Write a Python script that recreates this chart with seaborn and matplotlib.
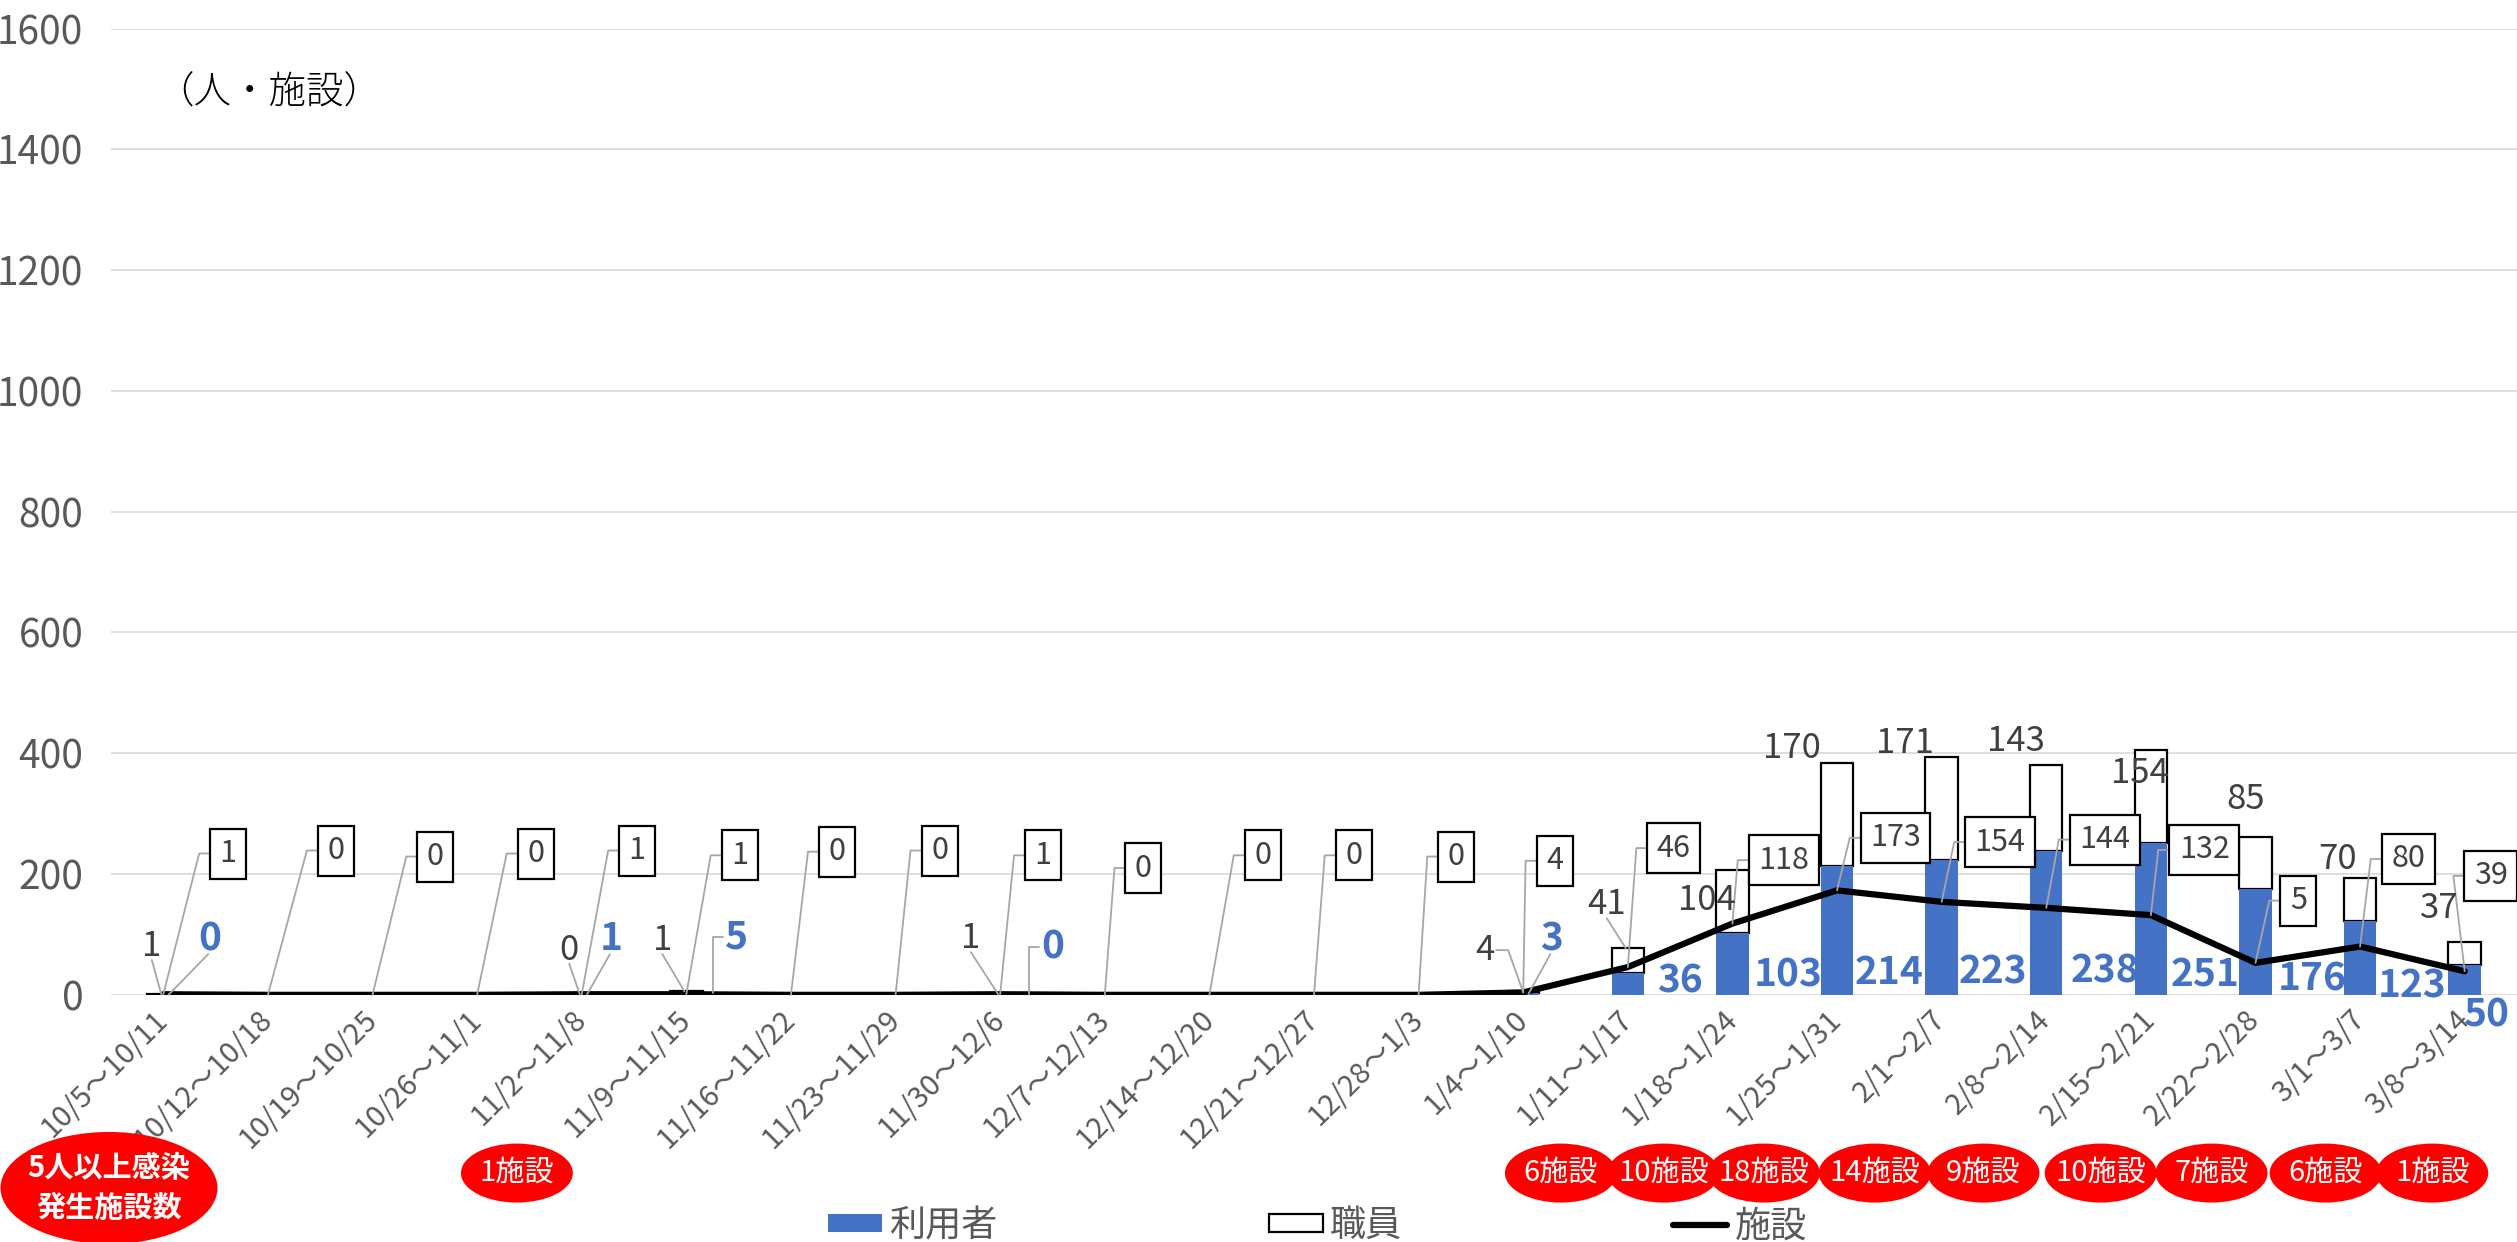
import numpy as np
import pandas as pd
import matplotlib
matplotlib.use("Agg")
import matplotlib.pyplot as plt
import seaborn as sns
from matplotlib.patches import Ellipse, Patch, Rectangle
from matplotlib.lines import Line2D
from matplotlib.transforms import blended_transform_factory

# ---------------- data ----------------
categories = ["10/5～10/11", "10/12～10/18", "10/19～10/25", "10/26～11/1", "11/2～11/8",
              "11/9～11/15", "11/16～11/22", "11/23～11/29", "11/30～12/6", "12/7～12/13",
              "12/14～12/20", "12/21～12/27", "12/28～1/3", "1/4～1/10", "1/11～1/17",
              "1/18～1/24", "1/25～1/31", "2/1～2/7", "2/8～2/14", "2/15～2/21",
              "2/22～2/28", "3/1～3/7", "3/8～3/14"]
users = [0, 0, 0, 0, 1, 5, 0, 0, 0, 0, 0, 0, 0, 3, 36, 103, 214, 223, 238, 251, 176, 123, 50]
staff = [1, 0, 0, 0, 0, 1, 0, 0, 1, 0, 0, 0, 0, 4, 41, 104, 170, 171, 143, 154, 85, 70, 37]
facilities = [1, 0, 0, 0, 1, 1, 0, 0, 1, 0, 0, 0, 0, 4, 46, 118, 173, 154, 144, 132, 53, 80, 39]
facility_label_text = ["1", "0", "0", "0", "1", "1", "0", "0", "1", "0", "0", "0", "0", "4",
                       "46", "118", "173", "154", "144", "132", "5", "80", "39"]
outbreak_weeks = [4, 14, 15, 16, 17, 18, 19, 20, 21, 22]
outbreak_text = ["1施設", "6施設", "10施設", "18施設", "14施設", "9施設", "10施設", "7施設", "6施設", "1施設"]
series_names = ["利用者", "職員", "施設"]
unit_text = "（人・施設）"
outbreak_title = "5人以上感染\n発生施設数"

# ---------------- layout (label positions, data coords) ----------------
staff_pos = {0: (-0.11, 80), 4: (3.88, 74), 5: (4.77, 90), 8: (7.72, 93), 13: (12.63, 74),
             14: (13.80, 149), 15: (14.76, 157), 16: (15.57, 408), 17: (16.65, 417),
             18: (17.71, 419), 19: (18.90, 366), 20: (19.91, 324), 21: (20.78, 224), 22: (21.76, 143)}
staff_leader_below = [0, 4, 5, 8, 14]
staff_leader_stub = [13]
users_pos = {0: (0.44, 93), 4: (4.28, 93), 5: (5.48, 96), 8: (8.50, 80), 13: (13.27, 93),
             14: (14.50, 23), 15: (15.53, 33), 16: (16.50, 37), 17: (17.49, 38), 18: (18.56, 40),
             19: (19.52, 33), 20: (20.54, 26), 21: (21.50, 15), 22: (22.21, -33)}
users_leader_diag = [0, 4, 13]
users_leader_stub = [5, 8]
fac_pos = [(0.62, 234), (1.65, 239), (2.60, 229), (3.56, 234), (4.53, 239), (5.51, 231),
           (6.44, 237), (7.42, 239), (8.41, 231), (9.37, 210), (10.51, 231), (11.38, 231),
           (12.36, 229), (13.30, 222), (14.44, 243), (15.49, 223), (16.56, 260), (17.56, 253),
           (18.56, 257), (19.51, 240), (20.41, 156), (21.46, 225), (22.25, 197)]
outbreak_x = [3.38, 13.36, 14.34, 15.30, 16.36, 17.40, 18.52, 19.58, 20.67, 21.69]

BLUE = "#4472C4"
GRAY_TXT = "#595959"
DARK_TXT = "#404040"
LEADER = "#A6A6A6"
FONT = ["Noto Sans CJK JP", "DejaVu Sans"]

sns.set_theme(style="white")
plt.rcParams["font.family"] = FONT

n = len(categories)
df = pd.DataFrame({"week": categories, "pos": np.arange(n), "users": users,
                   "staff": staff, "facilities": facilities})

fig = plt.figure(figsize=(25.17, 12.42), dpi=100)
ax = fig.add_axes([0.0441, 0.199, 0.9559, 0.778])

sns.barplot(data=df, x="week", y="staff", bottom=df["users"].values, order=categories,
            color="white", saturation=1, edgecolor="black", linewidth=1.6, width=0.31,
            ax=ax, zorder=2)
sns.barplot(data=df, x="week", y="users", order=categories, color=BLUE, saturation=1,
            linewidth=0, width=0.31, ax=ax, zorder=2)
sns.lineplot(data=df, x="pos", y="facilities", color="black", linewidth=4.5, ax=ax,
             zorder=3, sort=False)

ax.set_xlim(-0.5, n - 0.5)
ax.set_ylim(0, 1600)
ax.set_yticks(np.arange(0, 1601, 200))
ax.set_xlabel("")
ax.set_ylabel("")
for s in ax.spines.values():
    s.set_visible(False)
ax.grid(axis="y", color="#D9D9D9", linewidth=1.2, zorder=0)
ax.set_axisbelow(True)
ax.set_xticks(np.arange(n))
ax.set_xticklabels(categories, rotation=45, ha="right", va="center", rotation_mode="anchor")
ax.tick_params(axis="x", length=0, pad=15, labelsize=21, labelcolor=GRAY_TXT)
ax.tick_params(axis="y", length=0, pad=20, labelsize=28, labelcolor=GRAY_TXT)

fig.text(0.062, 0.925, unit_text, fontsize=27, color="black", va="center", ha="left",
         fontweight="light")

# labels
staff_txt = {}
for i, (x, y) in staff_pos.items():
    staff_txt[i] = ax.text(x, y, str(staff[i]), fontsize=25, color=DARK_TXT,
                           ha="center", va="center", zorder=8, clip_on=False)
users_txt = {}
for i, (x, y) in users_pos.items():
    users_txt[i] = ax.text(x, y, str(users[i]), fontsize=28, color=BLUE, fontweight="bold",
                           ha="center", va="center", zorder=8, clip_on=False)
fac_txt = []
for i, (x, y) in enumerate(fac_pos):
    fac_txt.append(ax.text(x, y, facility_label_text[i], fontsize=22, color=DARK_TXT,
                           ha="center", va="center", zorder=7, clip_on=False))

# leader lines and label boxes (computed from rendered label extents)
fig.canvas.draw()
rend = fig.canvas.get_renderer()
inv = ax.transData.inverted()


def leader(points_disp):
    pts = inv.transform(np.array(points_disp))
    ax.plot(pts[:, 0], pts[:, 1], color=LEADER, linewidth=1.3, zorder=4, clip_on=False)


BOX_H = 50
for i, t in enumerate(fac_txt):
    bb = t.get_window_extent(rend)
    xc, yc = ax.transData.transform(fac_pos[i])
    w = bb.width + 19
    x0, y0 = xc - w / 2, yc - BOX_H / 2
    (dx0, dy0), (dx1, dy1) = inv.transform([(x0, y0), (x0 + w, y0 + BOX_H)])
    ax.add_patch(Rectangle((dx0, dy0), dx1 - dx0, dy1 - dy0, facecolor="white",
                           edgecolor="black", linewidth=1.6, zorder=6, clip_on=False))
    p = ax.transData.transform((i, facilities[i]))
    leader([(x0, yc), (x0 - 11, yc), (p[0], p[1])])
for i in staff_leader_below:
    bb = staff_txt[i].get_window_extent(rend)
    p = ax.transData.transform((i, users[i] + staff[i]))
    leader([(bb.x0 + 0.5 * bb.width, bb.y0 + 4), (p[0] - 2, p[1])])
for i in staff_leader_stub:
    bb = staff_txt[i].get_window_extent(rend)
    ym = (bb.y0 + bb.y1) / 2
    p = ax.transData.transform((i, facilities[i]))
    leader([(bb.x1 + 2, ym), (bb.x1 + 14, ym), (p[0], p[1])])
for i in users_leader_diag:
    bb = users_txt[i].get_window_extent(rend)
    p = ax.transData.transform((i + 0.05, users[i] / 2))
    leader([(bb.x0 + 0.45 * bb.width, bb.y0 + 4), (p[0], p[1])])
for i in users_leader_stub:
    bb = users_txt[i].get_window_extent(rend)
    ym = (bb.y0 + bb.y1) / 2
    p = ax.transData.transform((i + 0.1, users[i] / 2))
    leader([(bb.x0 - 2, ym), (bb.x0 - 12, ym), (bb.x0 - 12, p[1])])

# outbreak ellipses
blend = blended_transform_factory(ax.transData, fig.transFigure)
for x, txt in zip(outbreak_x, outbreak_text):
    e = Ellipse((x, 0.0555), width=1.07, height=0.0475, transform=blend,
                facecolor="#FF0000", edgecolor="none", clip_on=False, zorder=8)
    ax.add_patch(e)
    ax.text(x, 0.0555, txt, transform=blend, fontsize=21, color="white", ha="center",
            va="center", zorder=9, clip_on=False)
fig.add_artist(Ellipse((0.0433, 0.0435), 0.0862, 0.0902, transform=fig.transFigure,
                       facecolor="#FF0000", edgecolor="none"))
fig.text(0.0433, 0.0435, outbreak_title, ha="center", va="center", color="white",
         fontsize=21, fontweight="bold", linespacing=1.45)

# legend
handles = [Patch(facecolor=BLUE, edgecolor="none"),
           Patch(facecolor="white", edgecolor="black", linewidth=1.6),
           Line2D([], [], color="black", linewidth=4.5)]
fig.legend(handles, series_names, loc="center left", bbox_to_anchor=(0.329, 0.0127),
           ncol=3, frameon=False, prop={"family": FONT, "size": 26},
           labelcolor=GRAY_TXT, handlelength=1.5, handleheight=0.4, handletextpad=0.2,
           columnspacing=7.5, borderaxespad=0, borderpad=0)

fig.savefig("out.png", dpi=100)
